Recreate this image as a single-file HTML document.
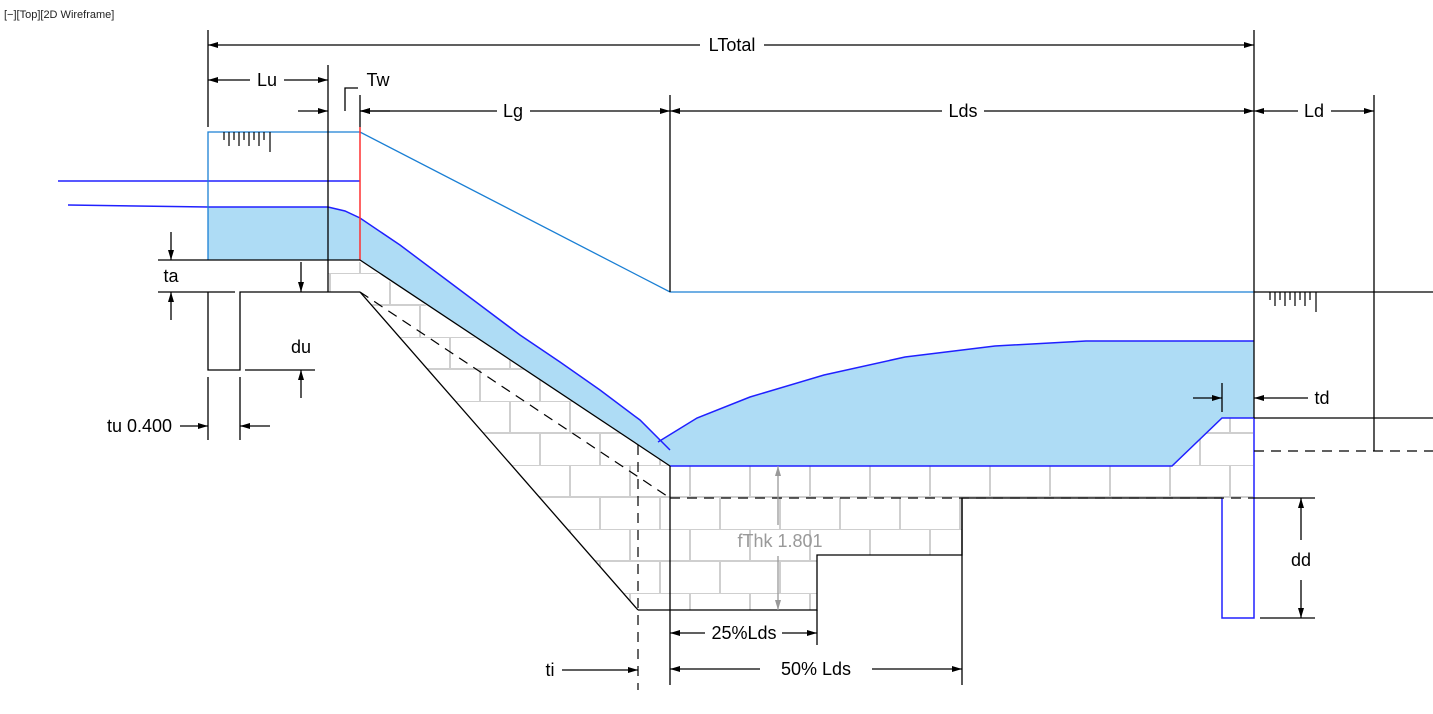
<!DOCTYPE html>
<html><head><meta charset="utf-8"><style>
html,body{margin:0;padding:0;background:#fff;}
svg{display:block;}
text{font-family:"Liberation Sans",sans-serif;}
</style></head><body>
<svg width="1433" height="714" viewBox="0 0 1433 714" xmlns="http://www.w3.org/2000/svg">
<defs>
<marker id="ar" viewBox="0 0 10 6" refX="10" refY="3" markerWidth="10" markerHeight="6" markerUnits="userSpaceOnUse" orient="auto"><path d="M0,0L10,3L0,6Z" fill="#000"/></marker>
<marker id="arg" viewBox="0 0 10 6" refX="10" refY="3" markerWidth="10" markerHeight="6" markerUnits="userSpaceOnUse" orient="auto"><path d="M0,0L10,3L0,6Z" fill="#999"/></marker>
<pattern id="brick" x="0" y="273" width="60" height="64" patternUnits="userSpaceOnUse">
<rect width="60" height="64" fill="#fff"/>
<g stroke="#cfcfcf" stroke-width="2" fill="none">
<line x1="0" y1="0" x2="60" y2="0"/><line x1="0" y1="32" x2="60" y2="32"/>
<line x1="30" y1="0" x2="30" y2="32"/><line x1="0" y1="32" x2="0" y2="64"/><line x1="60" y1="32" x2="60" y2="64"/>
</g></pattern>
<clipPath id="fclip"><polygon points="328,262 360,262 670,466 1172,466 1222,418 1253,418 1253,498 962,498 962,555 817,555 817,610 638,610 360,292 328,292"/></clipPath>
</defs>
<text x="4" y="18" font-size="11" fill="#222">[−][Top][2D Wireframe]</text>

<rect x="0" y="0" width="1433" height="714" fill="url(#brick)" clip-path="url(#fclip)"/>

<!-- water -->
<g fill="#aedcf5">
<path d="M208,207 L328,207 L345,211 L360,218 L400,245 L440,275 L480,305 L520,335 L560,362 L600,390 L640,420 L670,450 L670,466 L360,260 L208,260Z"/>
<path d="M658,442 L697,418 L750,397 L824,375 L905,357 L995,346 L1086,341 L1254,341 L1254,418 L1222,418 L1172,466 L670,466Z"/>
</g>
<g fill="none" stroke="#2020ff" stroke-width="1.5">
<path d="M68,205 L208,207 L328,207 L345,211 L360,218 L400,245 L440,275 L480,305 L520,335 L560,362 L600,390 L640,420 L670,450"/>
<path d="M658,442 L697,418 L750,397 L824,375 L905,357 L995,346 L1086,341 L1254,341"/>
<path d="M670,466 L1172,466 L1222,418 L1254,418"/>
<line x1="58" y1="181" x2="360" y2="181"/>
<path d="M1254,418 L1254,618 L1222,618 L1222,498"/>
</g>
<!-- energy line -->
<g fill="none" stroke="#1a7fd4" stroke-width="1.3">
<path d="M208,260 L208,132 L360,132 L670,292 L1254,292"/>
</g>
<line x1="360" y1="127" x2="360" y2="260" stroke="#ff3030" stroke-width="1.5"/>

<!-- structure lines -->
<g fill="none" stroke="#000" stroke-width="1.3">
<line x1="158" y1="260" x2="360" y2="260"/>
<path d="M158,292 L235,292"/>
<path d="M208,292 L208,370 L240,370 L240,292 L360,292"/>
<line x1="360" y1="260" x2="670" y2="466"/>
<line x1="360" y1="292" x2="638" y2="610"/>
<path d="M638,610 L817,610 L817,555 L962,555 L962,498 L1222,498"/>
<line x1="670" y1="466" x2="670" y2="685"/>
<line x1="962" y1="498" x2="962" y2="685"/>
<line x1="817" y1="610" x2="817" y2="645"/>
<line x1="1254" y1="292" x2="1433" y2="292"/>
<line x1="1254" y1="418" x2="1433" y2="418"/>
<line x1="1254" y1="498" x2="1315" y2="498"/>
<line x1="1260" y1="618" x2="1315" y2="618"/>
<line x1="245" y1="370" x2="315" y2="370"/>
<line x1="208" y1="377" x2="208" y2="440"/>
<line x1="240" y1="377" x2="240" y2="440"/>
<line x1="1222" y1="383" x2="1222" y2="412"/>
</g>
<g fill="none" stroke="#000" stroke-width="1.2" stroke-dasharray="10,7">
<line x1="360" y1="292" x2="670" y2="498"/>
<line x1="670" y1="498" x2="1254" y2="498"/>
<line x1="638" y1="445" x2="638" y2="690"/>
<line x1="1254" y1="451" x2="1433" y2="451"/>
</g>

<!-- extension lines -->
<g stroke="#000" stroke-width="1.3">
<line x1="208" y1="30" x2="208" y2="127"/>
<line x1="328" y1="65" x2="328" y2="292"/>
<line x1="360" y1="95" x2="360" y2="127"/>
<line x1="670" y1="95" x2="670" y2="292"/>
<line x1="1254" y1="30" x2="1254" y2="292"/>
<line x1="1374" y1="95" x2="1374" y2="451"/>
<line x1="1254" y1="292" x2="1254" y2="418"/>
</g>

<!-- dimensions -->
<g stroke="#000" stroke-width="1.3" fill="none">
<line x1="700" y1="45" x2="208" y2="45" marker-end="url(#ar)"/>
<line x1="764" y1="45" x2="1254" y2="45" marker-end="url(#ar)"/>
<line x1="250" y1="80" x2="208" y2="80" marker-end="url(#ar)"/>
<line x1="284" y1="80" x2="328" y2="80" marker-end="url(#ar)"/>
<line x1="298" y1="111" x2="328" y2="111" marker-end="url(#ar)"/>
<line x1="390" y1="111" x2="360" y2="111" marker-end="url(#ar)"/>
<polyline points="345,111 345,88 358,88"/>
<line x1="497" y1="111" x2="360" y2="111" marker-end="url(#ar)"/>
<line x1="530" y1="111" x2="670" y2="111" marker-end="url(#ar)"/>
<line x1="942" y1="111" x2="670" y2="111" marker-end="url(#ar)"/>
<line x1="984" y1="111" x2="1254" y2="111" marker-end="url(#ar)"/>
<line x1="1298" y1="111" x2="1254" y2="111" marker-end="url(#ar)"/>
<line x1="1331" y1="111" x2="1374" y2="111" marker-end="url(#ar)"/>
<line x1="171" y1="232" x2="171" y2="260" marker-end="url(#ar)"/>
<line x1="171" y1="320" x2="171" y2="292" marker-end="url(#ar)"/>
<line x1="301" y1="262" x2="301" y2="292" marker-end="url(#ar)"/>
<line x1="301" y1="398" x2="301" y2="370" marker-end="url(#ar)"/>
<line x1="180" y1="426" x2="208" y2="426" marker-end="url(#ar)"/>
<line x1="270" y1="426" x2="240" y2="426" marker-end="url(#ar)"/>
<line x1="705" y1="633" x2="670" y2="633" marker-end="url(#ar)"/>
<line x1="782" y1="633" x2="817" y2="633" marker-end="url(#ar)"/>
<line x1="760" y1="669" x2="670" y2="669" marker-end="url(#ar)"/>
<line x1="872" y1="669" x2="962" y2="669" marker-end="url(#ar)"/>
<line x1="562" y1="670" x2="638" y2="670" marker-end="url(#ar)"/>
<line x1="1193" y1="398" x2="1222" y2="398" marker-end="url(#ar)"/>
<line x1="1308" y1="398" x2="1254" y2="398" marker-end="url(#ar)"/>
<line x1="1301" y1="540" x2="1301" y2="498" marker-end="url(#ar)"/>
<line x1="1301" y1="580" x2="1301" y2="618" marker-end="url(#ar)"/>
</g>
<g stroke="#999" stroke-width="1.3">
<line x1="778" y1="525" x2="778" y2="466" marker-end="url(#arg)"/>
<line x1="778" y1="556" x2="778" y2="610" marker-end="url(#arg)"/>
</g>

<!-- ground hatches -->
<g stroke="#000" stroke-width="1.2">
<path d="M224,132v8M229,132v14M234,132v8M239,132v14M244,132v8M249,132v14M254,132v8M259,132v14M264,132v8M270,132v20"/>
<path d="M1270,292v8M1275,292v14M1280,292v8M1285,292v14M1290,292v8M1295,292v14M1300,292v8M1305,292v14M1310,292v8M1316,292v20"/>
</g>

<g font-size="18" fill="#000" text-anchor="middle" dominant-baseline="central">
<text x="732" y="45">LTotal</text>
<text x="267" y="80">Lu</text>
<text x="378" y="80">Tw</text>
<text x="513" y="111">Lg</text>
<text x="963" y="111">Lds</text>
<text x="1314" y="111">Ld</text>
<text x="171" y="276">ta</text>
<text x="301" y="347">du</text>
<text x="172" y="426" text-anchor="end">tu 0.400</text>
<text x="744" y="633">25%Lds</text>
<text x="816" y="669">50% Lds</text>
<text x="550" y="670">ti</text>
<text x="1322" y="398">td</text>
<text x="1301" y="560">dd</text>
<text x="780" y="541" fill="#999">fThk 1.801</text>
</g>
</svg>
</body></html>
